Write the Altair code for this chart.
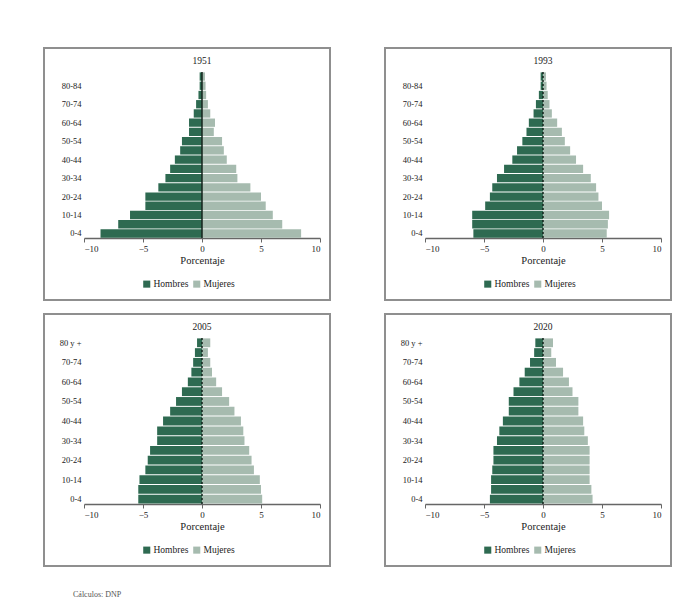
import altair as alt
import pandas as pd

# ---- data ----
ages18 = ["0-4", "5-9", "10-14", "15-19", "20-24", "25-29", "30-34", "35-39", "40-44",
          "45-49", "50-54", "55-59", "60-64", "65-69", "70-74", "75-79", "80-84", "85+"]
ages17 = ["0-4", "5-9", "10-14", "15-19", "20-24", "25-29", "30-34", "35-39", "40-44",
          "45-49", "50-54", "55-59", "60-64", "65-69", "70-74", "75-79", "80 y +"]
labels18 = ["0-4", "10-14", "20-24", "30-34", "40-44", "50-54", "60-64", "70-74", "80-84"]
labels17 = ["0-4", "10-14", "20-24", "30-34", "40-44", "50-54", "60-64", "70-74", "80 y +"]

years = ["1951", "1993", "2005", "2020"]

h1951 = [8.6, 7.1, 6.1, 4.8, 4.8, 3.7, 3.1, 2.7, 2.3, 1.85, 1.7, 1.1, 1.1, 0.7, 0.5, 0.3, 0.2, 0.2]
m1951 = [8.4, 6.8, 6.0, 5.4, 5.0, 4.1, 3.0, 2.9, 2.1, 1.85, 1.7, 1.0, 1.1, 0.7, 0.5, 0.35, 0.3, 0.25]

h1993 = [5.9, 6.0, 6.0, 4.9, 4.5, 4.3, 3.9, 3.3, 2.6, 2.2, 1.75, 1.4, 1.2, 0.8, 0.6, 0.35, 0.2, 0.2]
m1993 = [5.4, 5.5, 5.6, 5.0, 4.7, 4.5, 4.05, 3.4, 2.8, 2.3, 1.85, 1.6, 1.2, 0.75, 0.55, 0.4, 0.3, 0.25]

h2005 = [5.4, 5.4, 5.3, 4.8, 4.6, 4.4, 3.8, 3.8, 3.3, 2.7, 2.2, 1.7, 1.2, 0.9, 0.75, 0.6, 0.42]
m2005 = [5.1, 5.0, 4.9, 4.4, 4.2, 4.0, 3.6, 3.5, 3.3, 2.75, 2.3, 1.7, 1.2, 0.85, 0.7, 0.5, 0.7]

h2020 = [4.5, 4.4, 4.4, 4.3, 4.2, 4.2, 3.9, 3.7, 3.4, 2.9, 2.9, 2.5, 2.0, 1.55, 1.1, 0.75, 0.65]
m2020 = [4.2, 4.1, 3.95, 3.95, 3.95, 3.95, 3.8, 3.5, 3.4, 3.0, 3.0, 2.5, 2.2, 1.7, 1.1, 0.7, 0.85]

sexes = ["Hombres", "Mujeres"]
colors = ["#2e6a51", "#a6bbaf"]
ticks_x = [-10, -5, 0, 5, 10]
source = "Cálculos: DNP"

FONT = "Liberation Serif"
W, H = 236, 166


def panel(year, ages, labels, hom, muj, dashed):
    rows = []
    for a, v in zip(ages, hom):
        rows.append({"edad": a, "sexo": "Hombres", "valor": -v})
    for a, v in zip(ages, muj):
        rows.append({"edad": a, "sexo": "Mujeres", "valor": v})
    df = pd.DataFrame(rows)

    bars = alt.Chart(df).mark_bar().encode(
        x=alt.X("valor:Q", stack=None,
                scale=alt.Scale(domain=[-10, 10], nice=False),
                axis=alt.Axis(values=ticks_x, title="Porcentaje", grid=False,
                              domainColor="#666", domainWidth=1.5, tickColor="#666",
                              tickSize=4, labelFont=FONT, labelFontSize=9,
                              labelColor="#222", titleFont=FONT, titleFontSize=10.5,
                              titleFontWeight="normal", titleColor="#222",
                              titlePadding=2, labelPadding=2)),
        y=alt.Y("edad:N", sort=list(reversed(ages)),
                scale=alt.Scale(paddingInner=0.1, paddingOuter=0.04),
                axis=alt.Axis(values=labels, title=None, domain=False, ticks=False,
                              labelFont=FONT, labelFontSize=8.5, labelColor="#222",
                              labelPadding=3)),
        color=alt.Color("sexo:N", scale=alt.Scale(domain=sexes, range=colors),
                        legend=alt.Legend(title=None, orient="none", legendX=58,
                                          legendY=H + 41, direction="horizontal",
                                          symbolType="square", symbolSize=50,
                                          symbolStrokeWidth=0,
                                          labelFont=FONT, labelFontSize=9.5,
                                          labelColor="#222", columnPadding=3,
                                          labelOffset=2)),
    )

    rule_kwargs = dict(color="#14241c", strokeWidth=1.5)
    if dashed:
        rule_kwargs["strokeDash"] = [2, 2]
    zero = alt.Chart(pd.DataFrame({"z": [0]})).mark_rule(**rule_kwargs).encode(
        x=alt.X("z:Q"), y=alt.value(0), y2=alt.value(H)
    )

    frame = alt.Chart(pd.DataFrame({"f": [0]})).mark_rect(
        fill="transparent", stroke="#8f8f8f", strokeWidth=2
    ).encode(
        x=alt.value(-40), x2=alt.value(W + 10), y=alt.value(-24), y2=alt.value(H + 62)
    )

    ttl = alt.Chart(pd.DataFrame({"t": [year]})).mark_text(
        font=FONT, fontSize=9.5, color="#222", baseline="middle"
    ).encode(text="t:N", x=alt.value(W / 2), y=alt.value(-11))

    return alt.layer(frame, bars, zero, ttl).properties(width=W, height=H)


p1 = panel(years[0], ages18, labels18, h1951, m1951, False)
p2 = panel(years[1], ages18, labels18, h1993, m1993, True)
p3 = panel(years[2], ages17, labels17, h2005, m2005, True)
p4 = panel(years[3], ages17, labels17, h2020, m2020, True)

top = alt.hconcat(p1, p2, spacing=53).resolve_scale(color="independent")
bottom = alt.hconcat(p3, p4, spacing=53).resolve_scale(color="independent")

chart = alt.vconcat(top, bottom, spacing=12).resolve_scale(
    color="independent"
).properties(
    title=alt.TitleParams(source, orient="bottom", anchor="start", font=FONT,
                          fontSize=8, fontWeight="normal", color="#555",
                          dx=30, offset=24),
    padding={"left": 35, "top": 39, "right": 5, "bottom": 5},
    background="white",
).configure_view(stroke=None)

chart.save("out.html", embed_options={"renderer": "svg", "actions": False})
